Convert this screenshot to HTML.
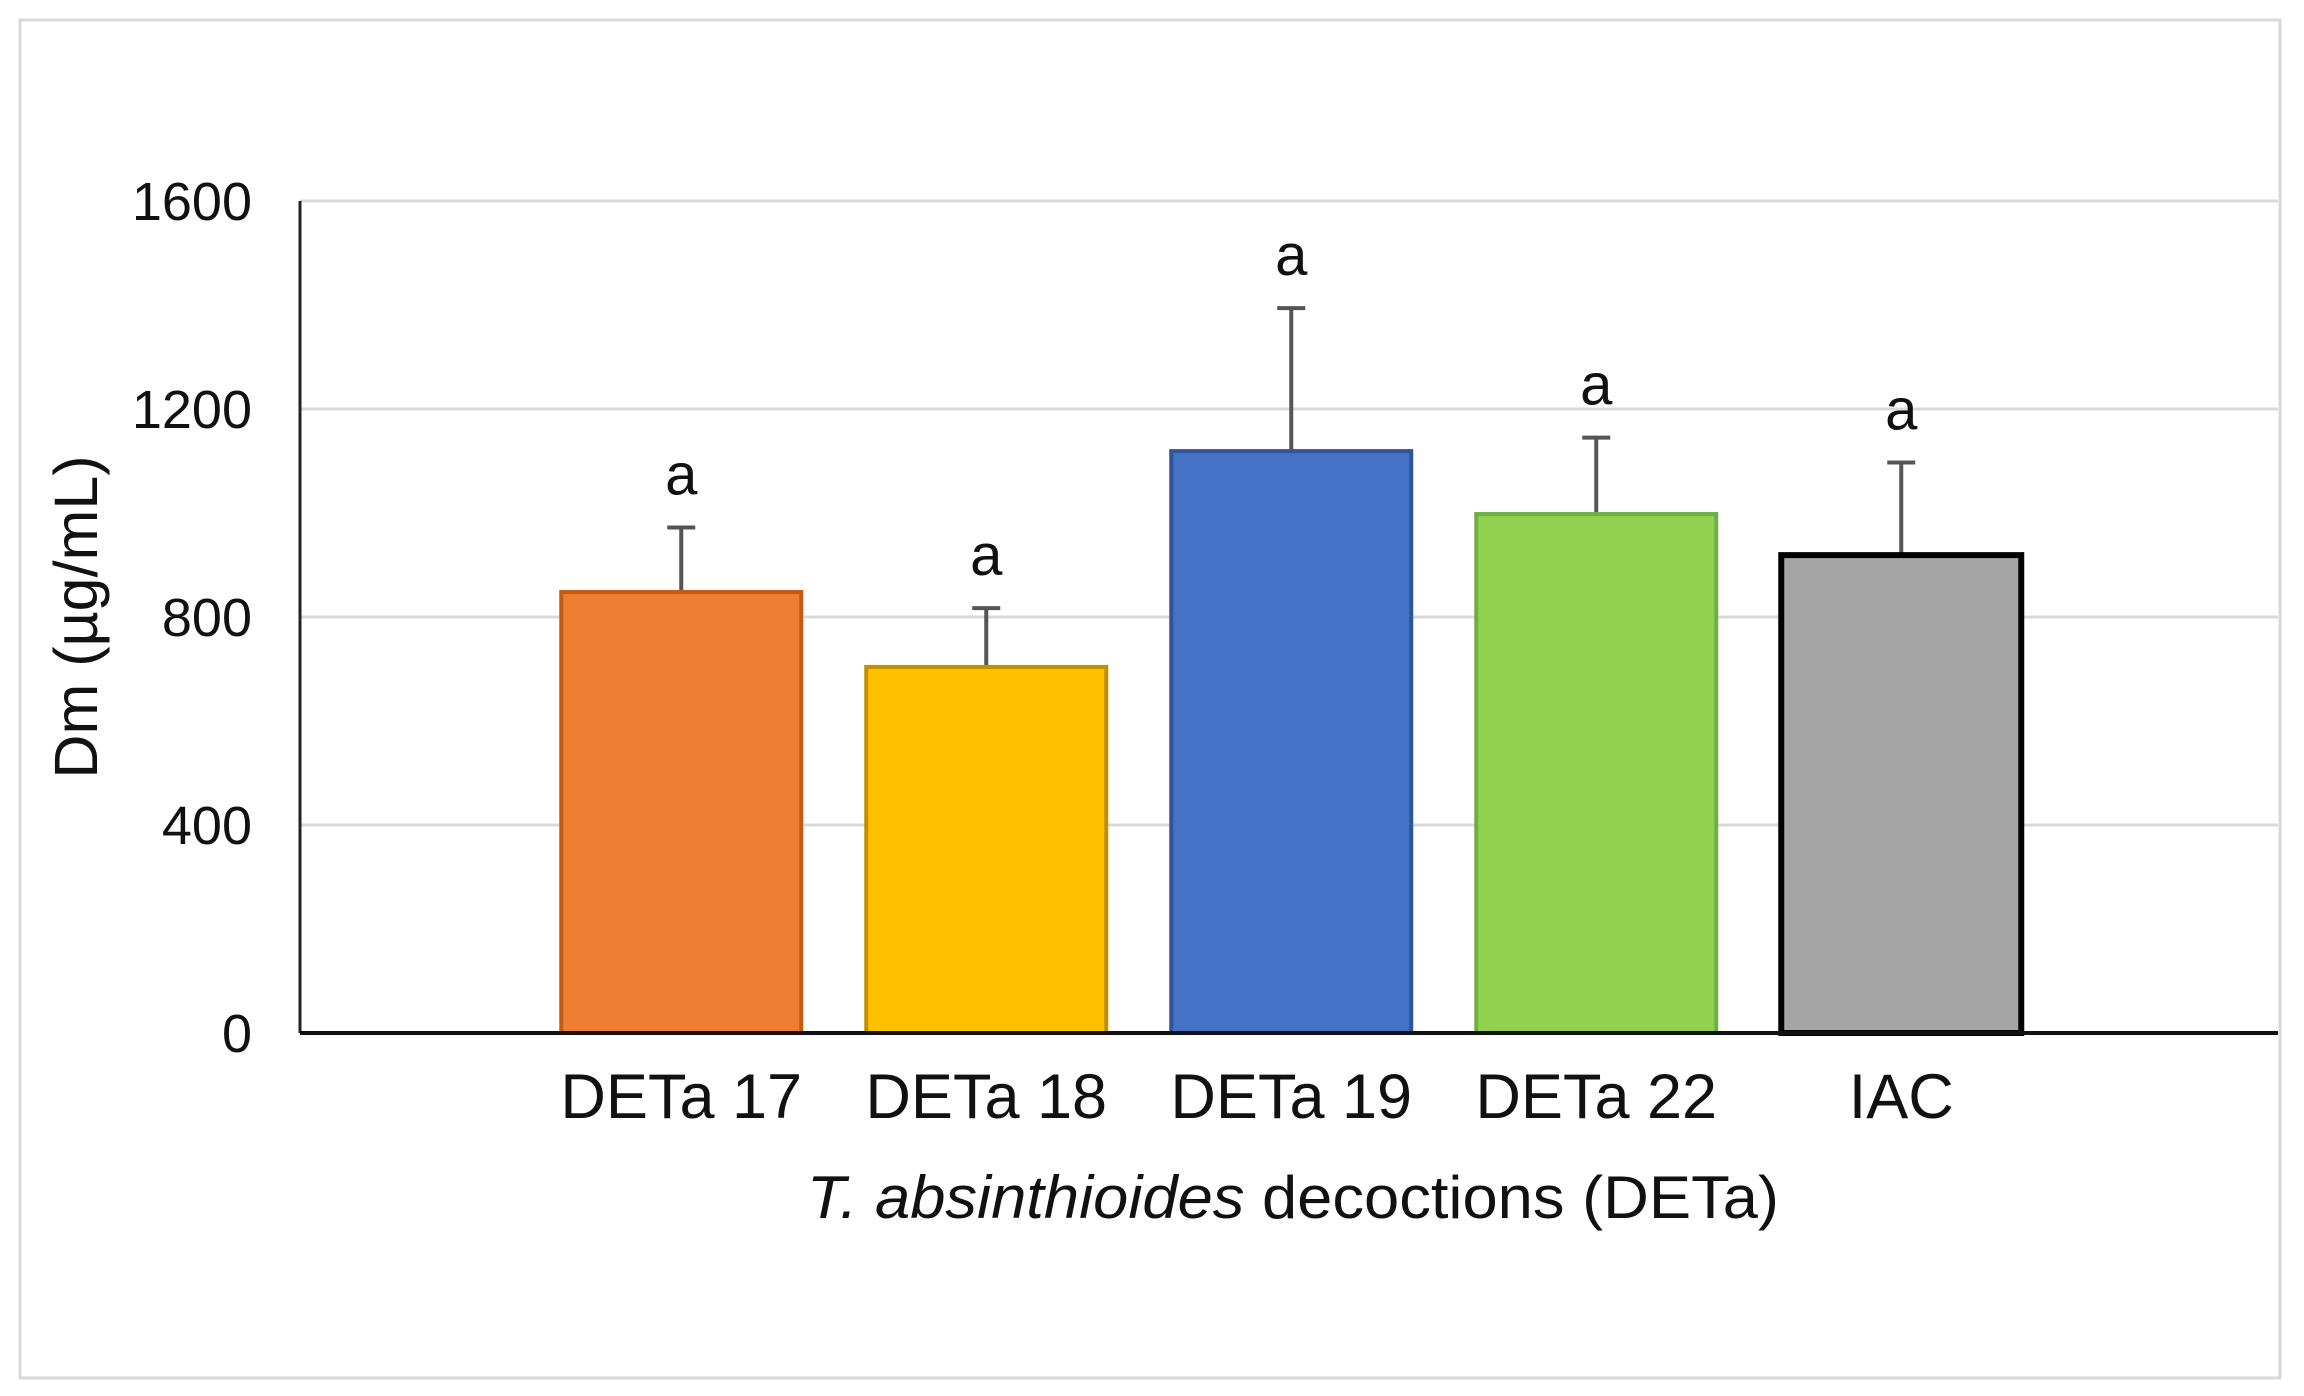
<!DOCTYPE html>
<html><head><meta charset="utf-8"><style>
html,body{margin:0;padding:0;background:#fff;}
svg{display:block;font-family:"Liberation Sans",Arial,sans-serif;}
</style></head><body>
<svg id="chart" width="2304" height="1396" viewBox="0 0 2304 1396" xmlns="http://www.w3.org/2000/svg">
<rect x="20" y="20" width="2260" height="1358" fill="#fff" stroke="#d9d9d9" stroke-width="3"/>
<g id="grid"></g>
<g id="bars"></g>
<g id="labels"></g>
<text transform="translate(97,617) rotate(-90)" text-anchor="middle" font-size="61" fill="#111">Dm (µg/mL)</text>
<text x="1293" y="1218" text-anchor="middle" font-size="60" fill="#111" textLength="972" lengthAdjust="spacingAndGlyphs"><tspan font-style="italic">T. absinthioides</tspan> decoctions (DETa)</text>
</svg>
<script>
const categories = ["DETa 17","DETa 18","DETa 19","DETa 22","IAC"];
const values = [848, 704, 1119, 998, 919];
const errors = [124, 113, 275, 147, 178];
const letters = ["a","a","a","a","a"];
const yTicks = [0, 400, 800, 1200, 1600];
const fills = ["#ed7d31","#ffc000","#4472c4","#92d050","#a5a5a5"];
const strokes = ["#c55a11","#bf9000","#2f5597","#70ad47","#000000"];

const NS="http://www.w3.org/2000/svg";
const x0=300, x1=2278, yZero=1033, yTop=201, yMax=1600;
const step=305, barW=240;
function y(v){return yZero-(v/yMax)*(yZero-yTop);}
function cx(i){return x0+(i+1.25)*step;}
function mk(tag,attrs,parent){const e=document.createElementNS(NS,tag);for(const k in attrs)e.setAttribute(k,attrs[k]);parent.appendChild(e);return e;}
const grid=document.getElementById('grid'),bars=document.getElementById('bars'),labels=document.getElementById('labels');
yTicks.forEach(t=>{
  if(t>0){const g=mk('line',{x1:x0,x2:x1,y1:y(t),y2:y(t),stroke:'#d9d9d9','stroke-width':3},grid);
  
  }
  const tx=mk('text',{x:252,y:y(t)+19,'text-anchor':'end','font-size':54,fill:'#111'},labels);
  tx.textContent=t;
  
  
});
const ya=mk('line',{x1:x0,x2:x0,y1:yTop,y2:yZero,stroke:'#222','stroke-width':3},grid);


categories.forEach((c,i)=>{
  const c0=cx(i);
  const er=mk('line',{x1:c0,x2:c0,y1:y(values[i]),y2:y(values[i]+errors[i]),stroke:'#555','stroke-width':4},bars);
  
  
  const cap=mk('line',{x1:c0-14,x2:c0+14,y1:y(values[i]+errors[i]),y2:y(values[i]+errors[i]),stroke:'#555','stroke-width':4},bars);
  
  
  const sw=i===4?6:4;
  const r=mk('rect',{x:c0-barW/2,y:y(values[i]),width:barW,height:yZero-y(values[i]),fill:fills[i],stroke:strokes[i],'stroke-width':sw},bars);
  
  
  const l=mk('text',{x:c0,y:y(values[i]+errors[i])-33,'text-anchor':'middle','font-size':58,fill:'#111'},labels);
  l.textContent=letters[i];
  
  
  const cl=mk('text',{x:c0,y:1118,'text-anchor':'middle','font-size':63,fill:'#111'},labels);
  cl.textContent=c;
  
  
});
const xa=mk('line',{x1:x0,x2:x1,y1:yZero,y2:yZero,stroke:'#111','stroke-width':4},bars);


</script>
</body></html>
